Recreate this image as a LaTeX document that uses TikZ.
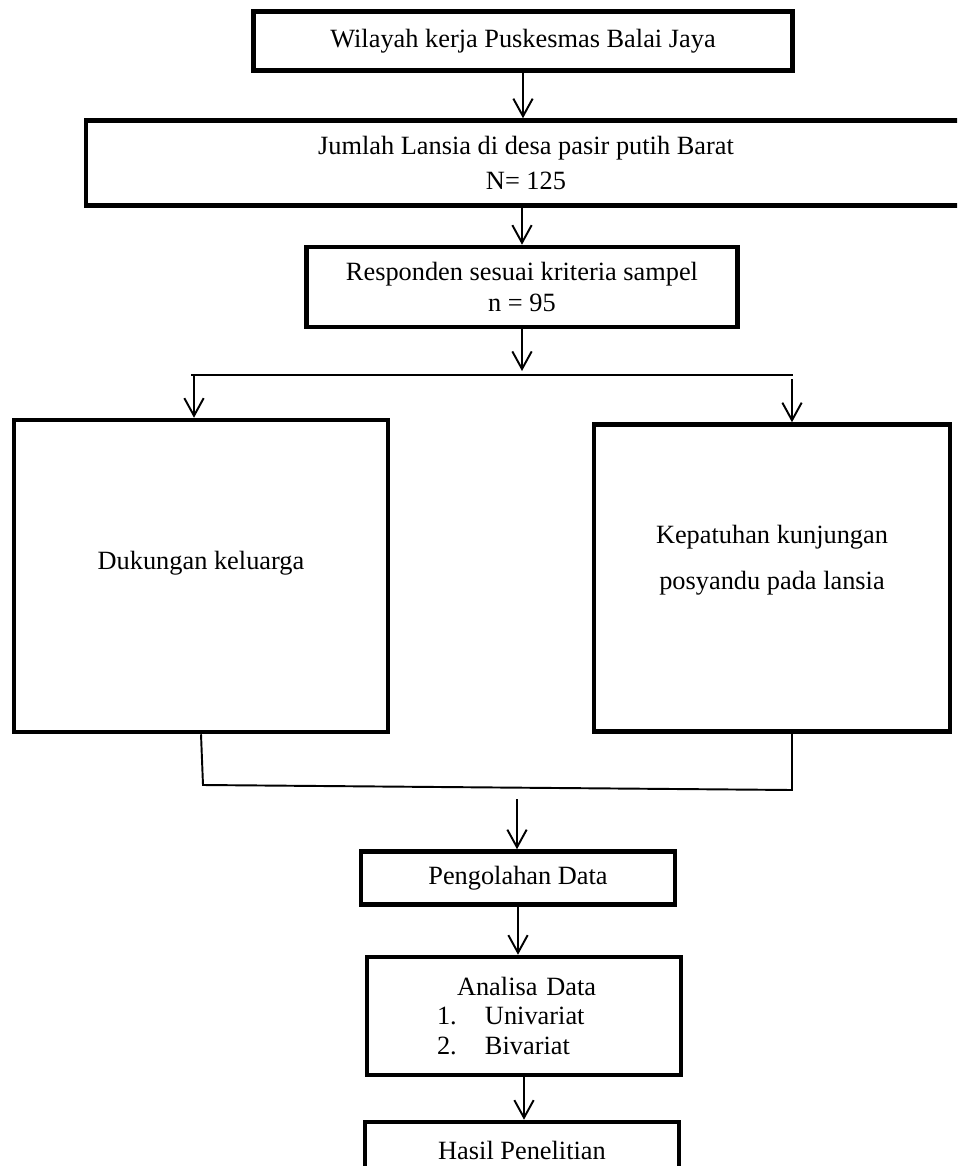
\documentclass[tikz,border=0pt]{standalone}
\usepackage{fontspec}
\setmainfont{Liberation Serif}
\usetikzlibrary{arrows.meta}

\begin{document}
\begin{tikzpicture}[x=0.02cm, y=-0.02cm, >={Straight Barb[length=10pt,width=11pt]}, every node/.style={font=\fontsize{15}{20}\selectfont}]
\tikzstyle{kotak}=[draw, line width=2.6pt, align=center, inner sep=0pt]
\tikzstyle{panah}=[->, line width=1.1pt]
\tikzstyle{garis}=[line width=1.1pt]
\useasboundingbox (0,0) rectangle (957,1166);
\clip (0,0) rectangle (957,1166);
\node[kotak, minimum width=10.78cm, minimum height=1.18cm] (wil) at (523,41) {Wilayah kerja Puskesmas Balai Jaya};
\node[kotak, minimum width=17.6cm, minimum height=1.7cm] (jml) at (526,163) {Jumlah Lansia di desa pasir putih Barat\\N= 125};
\node[kotak, minimum width=8.62cm, minimum height=1.6cm, font=\fontsize{15}{17.5}\selectfont] (resp) at (522,287) {Responden sesuai kriteria sampel\\n = 95};
\node[kotak, minimum width=7.48cm, minimum height=6.24cm, text depth=0.62cm] (duk) at (201,576) {Dukungan keluarga};
\node[kotak, minimum width=7.12cm, minimum height=6.14cm, text depth=0.82cm, font=\fontsize{15}{26}\selectfont] (kep) at (772,578) {Kepatuhan kunjungan\\posyandu pada lansia};
\node[kotak, minimum width=6.28cm, minimum height=1.06cm] (olah) at (518,878) {Pengolahan Data};
\node[kotak, text width=6.28cm, minimum height=2.36cm, align=left, font=\fontsize{15}{17}\selectfont] (ana) at (524,1016) {\hspace*{1.8cm}Analisa Data\\
\hspace*{1.4cm}\makebox[0.96cm][l]{1.}Univariat\\
\hspace*{1.4cm}\makebox[0.96cm][l]{2.}Bivariat};
\node[kotak, minimum width=6.28cm, minimum height=1.12cm] (has) at (522,1150) {Hasil Penelitian};
% percabangan
\coordinate (sM) at (522,371);
\coordinate (sL) at (191,375);
\coordinate (sR) at (793,375);
\coordinate (aL) at (194,375);
\coordinate (aR) at (792,379);
% penggabungan
\coordinate (mL) at (203,785);
\coordinate (mR) at (792,790);
\coordinate (mA) at (517,799);
\draw[panah] (wil.south) -- (wil.south |- jml.north);
\draw[panah] (resp.north |- jml.south) -- (resp.north);
\draw[panah] (resp.south) -- (sM);
\draw[garis] (sL) -- (sR);
\draw[panah] (aL) -- (aL |- duk.north);
\draw[panah] (aR) -- (aR |- kep.north);
\draw[garis] (duk.south) -- (mL) -- (mR) -- (mR |- kep.south);
\draw[panah] (mA) -- (mA |- olah.north);
\draw[panah] (olah.south) -- (olah.south |- ana.north);
\draw[panah] (ana.south) -- (ana.south |- has.north);
\end{tikzpicture}
\end{document}
